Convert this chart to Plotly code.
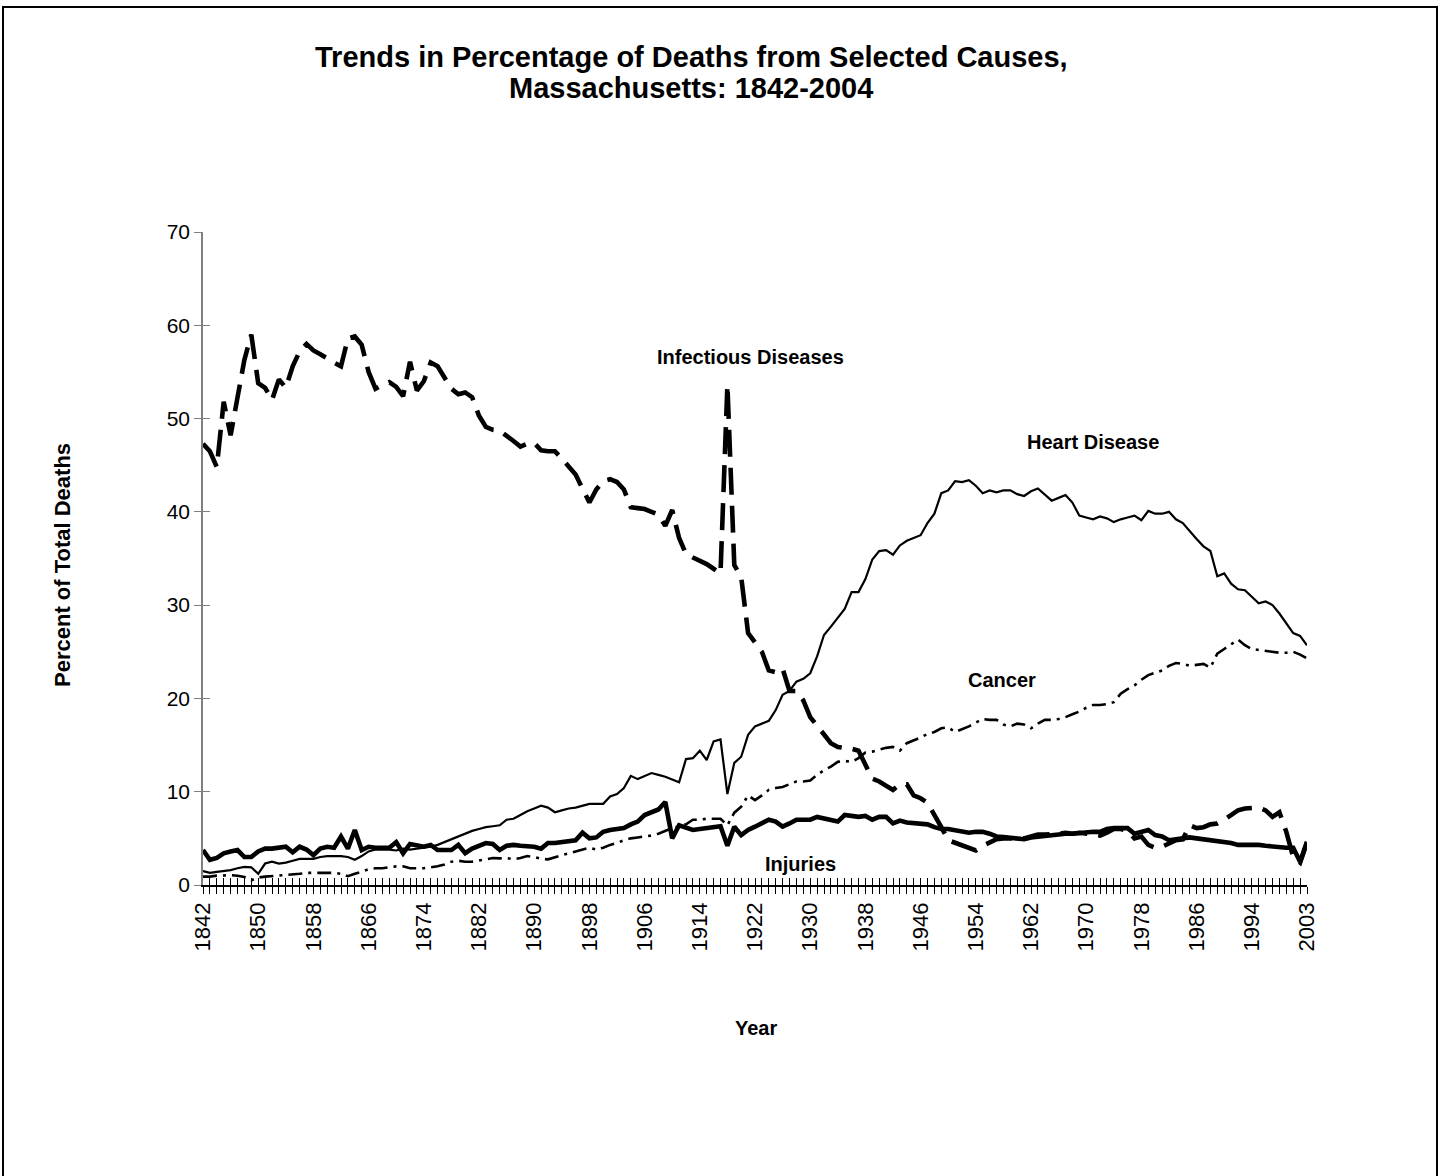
import plotly.graph_objects as go

# ---------------- data ----------------
years = list(range(1842, 1999)) + list(range(2000, 2004))

infectious = [
    47.3, 46.5, 44.8, 51.8, 48.2, 52.2, 56.3, 59.0, 53.8, 53.3,
    52.0, 54.2, 53.3, 55.6, 57.2, 58.0, 57.3, 56.9, 56.4, 56.0,
    55.6, 58.6, 58.8, 57.9, 55.0, 53.2, 53.6, 53.9, 53.4, 52.4,
    56.1, 53.0, 54.0, 56.0, 55.6, 54.5, 53.2, 52.6, 52.8, 52.3,
    50.3, 49.1, 48.8, 48.7, 48.2, 47.6, 47.0, 47.3, 47.4, 46.6,
    46.5, 46.5, 45.7, 44.8, 44.0, 42.5, 41.0, 42.4, 43.3, 43.5,
    43.2, 42.4, 40.5, 40.4, 40.3, 40.0, 39.7, 38.5, 40.2, 37.2,
    35.5, 35.1, 34.8, 34.4, 33.9, 33.4, 53.6, 34.3, 33.0, 27.0,
    26.0, 25.0, 23.0, 22.8, 23.2, 20.8, 20.8, 19.8, 18.0, 17.0,
    16.0, 15.2, 14.8, 14.75, 14.6, 14.4, 12.8, 11.4, 11.1, 10.6,
    10.2, 10.8, 10.8, 9.6, 9.3, 8.8, 7.6, 6.2, 4.8, 4.5,
    4.2, 3.9, 3.7, 4.2, 4.6, 4.9, 5.0, 5.0, 5.1, 5.0,
    5.2, 5.4, 5.4, 5.4, 5.5, 5.6, 5.5, 5.6, 5.5, 5.3,
    5.3, 5.6, 6.0, 6.0, 5.8, 5.0, 5.2, 4.3, 4.0, 4.1,
    4.4, 4.8, 4.9, 6.4, 6.1, 6.2, 6.5, 6.6, 7.0, 7.5,
    8.0, 8.2, 8.3, 8.3, 8.0, 7.3, 7.8, 5.7, 3.0, 2.4,
    4.6,
]

heart = [
    1.5, 1.3, 1.4, 1.5, 1.6, 1.8, 1.95, 1.9, 1.2, 2.3,
    2.5, 2.3, 2.4, 2.6, 2.8, 2.8, 2.8, 3.0, 3.1, 3.1,
    3.1, 3.0, 2.7, 3.1, 3.6, 3.8, 3.8, 3.8, 3.7, 3.9,
    3.8, 3.9, 4.0, 4.1, 4.3, 4.6, 4.9, 5.2, 5.5, 5.8,
    6.0, 6.2, 6.3, 6.4, 7.0, 7.1, 7.5, 7.9, 8.2, 8.5,
    8.3, 7.8, 8.0, 8.2, 8.3, 8.5, 8.7, 8.7, 8.7, 9.5,
    9.75, 10.4, 11.7, 11.35, 11.7, 12.0, 11.8, 11.6, 11.3, 11.0,
    13.5, 13.6, 14.4, 13.4, 15.4, 15.6, 9.75, 13.1, 13.75, 16.1,
    17.0, 17.3, 17.6, 18.75, 20.4, 20.8, 21.8, 22.1, 22.7, 24.5,
    26.8, 27.7, 28.6, 29.6, 31.4, 31.4, 32.8, 34.9, 35.8, 35.9,
    35.4, 36.4, 36.9, 37.2, 37.5, 38.8, 39.8, 42.0, 42.3, 43.3,
    43.2, 43.4, 42.8, 42.0, 42.3, 42.1, 42.3, 42.3, 41.9, 41.7,
    42.2, 42.5, 41.9, 41.2, 41.5, 41.8, 41.0, 39.6, 39.4, 39.2,
    39.5, 39.3, 38.9, 39.2, 39.4, 39.6, 39.1, 40.1, 39.8, 39.8,
    40.0, 39.2, 38.8, 37.9, 37.1, 36.3, 35.8, 33.1, 33.4, 32.3,
    31.7, 31.6, 30.9, 30.2, 30.4, 30.0, 29.1, 28.0, 27.0, 26.7,
    25.7,
]

cancer = [
    0.9, 0.9, 1.0, 1.05, 1.05, 1.0, 0.85, 0.5, 0.8, 0.9,
    0.95, 1.0, 1.1, 1.1, 1.2, 1.3, 1.3, 1.3, 1.3, 1.3,
    1.2, 0.95, 1.2, 1.4, 1.7, 1.8, 1.8, 1.9, 2.0, 2.0,
    1.8, 1.8, 1.8, 1.9, 2.0, 2.2, 2.5, 2.6, 2.5, 2.5,
    2.6, 2.75, 2.9, 2.85, 2.9, 2.75, 2.9, 3.1, 3.0, 2.8,
    2.75, 3.0, 3.2, 3.4, 3.6, 3.8, 4.0, 3.8, 4.0, 4.3,
    4.5, 4.8, 5.0, 5.1, 5.2, 5.3, 5.5, 5.8, 6.1, 6.3,
    6.5, 7.0, 7.0, 7.1, 7.1, 7.1, 6.4, 7.75, 8.4, 9.6,
    9.1, 9.6, 10.2, 10.4, 10.5, 10.8, 11.1, 11.1, 11.2, 11.8,
    12.3, 12.7, 13.2, 13.3, 13.2, 13.6, 14.2, 14.3, 14.5, 14.7,
    14.8, 14.4, 15.2, 15.5, 15.8, 16.2, 16.4, 16.8, 16.9, 16.4,
    16.7, 17.0, 17.4, 17.8, 17.7, 17.7, 17.2, 17.0, 17.3, 17.2,
    16.8, 17.3, 17.7, 17.7, 17.8, 18.0, 18.3, 18.6, 19.0, 19.3,
    19.3, 19.4, 19.6, 20.5, 21.0, 21.4, 22.0, 22.5, 22.75, 23.0,
    23.5, 23.8, 23.7, 23.5, 23.6, 23.7, 23.3, 24.8, 25.3, 25.8,
    26.3, 25.7, 25.3, 25.2, 25.1, 25.0, 24.9, 24.9, 25.0, 24.7,
    24.3,
]

injuries = [
    3.75, 2.7, 2.9, 3.4, 3.6, 3.75, 3.0, 3.0, 3.6, 3.9,
    3.9, 4.0, 4.1, 3.5, 4.1, 3.8, 3.2, 3.9, 4.1, 4.0,
    5.2, 3.9, 5.9, 3.75, 4.1, 4.0, 4.0, 4.0, 4.6, 3.4,
    4.4, 4.2, 4.1, 4.3, 3.75, 3.75, 3.75, 4.3, 3.4, 3.9,
    4.2, 4.5, 4.4, 3.75, 4.2, 4.3, 4.2, 4.2, 4.1, 3.9,
    4.5, 4.5, 4.6, 4.7, 4.8, 5.6, 5.0, 5.1, 5.7, 5.9,
    6.0, 6.1, 6.5, 6.8, 7.5, 7.8, 8.1, 8.9, 5.0, 6.4,
    6.1, 5.9, 6.0, 6.1, 6.1, 6.3, 4.2, 6.25, 5.35, 5.9,
    6.25, 6.6, 7.0, 6.8, 6.25, 6.6, 7.0, 7.0, 7.0, 7.3,
    7.1, 6.9, 6.8, 7.5, 7.4, 7.3, 7.4, 7.0, 7.3, 7.3,
    6.6, 6.9, 6.7, 6.6, 6.5, 6.5, 6.2, 6.0, 6.0, 5.9,
    5.8, 5.6, 5.7, 5.7, 5.5, 5.2, 5.15, 5.1, 5.0, 4.9,
    5.1, 5.2, 5.3, 5.35, 5.4, 5.5, 5.5, 5.6, 5.6, 5.7,
    5.7, 6.0, 6.1, 6.1, 6.1, 5.5, 5.7, 5.9, 5.35, 5.2,
    4.8, 4.9, 5.0, 5.1, 5.0, 4.9, 4.8, 4.7, 4.65, 4.5,
    4.3, 4.3, 4.35, 4.3, 4.2, 4.1, 4.05, 4.0, 4.0, 2.5,
    4.6,
]

series_labels = ["Infectious Diseases", "Heart Disease", "Cancer", "Injuries"]
y_ticks = [0, 10, 20, 30, 40, 50, 60, 70]
label_every = 8

# ---------------- layout helpers ----------------
W, H = 1441, 1176
L, R, T, B = 203, 134, 232, 291
PW, PH = W - L - R, H - T - B
FONT = "Liberation Sans, Arial, sans-serif"


def px(xp):
    return (xp - L) / PW


def py(yp):
    return (H - B - yp) / PH


xi = list(range(len(years)))
ticktext = [str(y) if i % label_every == 0 else "" for i, y in enumerate(years)]

fig = go.Figure()
fig.add_trace(go.Scatter(x=xi, y=infectious, mode="lines", name=series_labels[0],
                         line=dict(color="black", width=4.6, dash="27px,11px")))
fig.add_trace(go.Scatter(x=xi, y=heart, mode="lines", name=series_labels[1],
                         line=dict(color="black", width=2.2)))
fig.add_trace(go.Scatter(x=xi, y=cancer, mode="lines", name=series_labels[2],
                         line=dict(color="black", width=2.6, dash="14px,6px,3px,6px")))
fig.add_trace(go.Scatter(x=xi, y=injuries, mode="lines", name=series_labels[3],
                         line=dict(color="black", width=4.6)))
# empty helper trace so the overlay axes (inner half of the crossing ticks) are drawn
fig.add_trace(go.Scatter(x=[None], y=[None], xaxis="x2", yaxis="y2", mode="lines",
                         hoverinfo="skip", showlegend=False))

axis_col = "#808080"
fig.update_layout(
    width=W, height=H,
    margin=dict(l=L, r=R, t=T, b=B, pad=0),
    paper_bgcolor="white", plot_bgcolor="white",
    showlegend=False,
    font=dict(family=FONT, color="black"),
    xaxis=dict(
        range=[0, len(years) - 1], tickmode="array", tickvals=xi, ticktext=ticktext,
        ticks="outside", ticklen=7, tickwidth=1, tickcolor="#000000",
        tickangle=-90, tickfont=dict(size=22, family=FONT, color="black"),
        showline=True, linecolor="#000000", linewidth=1.5,
        showgrid=False, zeroline=False,
    ),
    xaxis2=dict(
        overlaying="x", anchor="y2", side="bottom",
        range=[0, len(years) - 1], tickmode="array", tickvals=xi,
        ticks="inside", ticklen=7, tickwidth=1, tickcolor="#000000",
        showticklabels=False, showline=False, showgrid=False, zeroline=False,
    ),
    yaxis=dict(
        range=[0, 70], tickmode="array", tickvals=y_ticks,
        ticks="outside", ticklen=7, tickwidth=1, tickcolor=axis_col,
        tickfont=dict(size=21, family=FONT, color="black"),
        showline=True, linecolor=axis_col, linewidth=1.5,
        showgrid=False, zeroline=False,
    ),
    yaxis2=dict(
        overlaying="y", anchor="x2", side="left",
        range=[0, 70], tickmode="array", tickvals=y_ticks,
        ticks="inside", ticklen=7, tickwidth=1, tickcolor=axis_col,
        showticklabels=False, showline=False, showgrid=False, zeroline=False,
    ),
)

annotations = [
    dict(text="<b>Trends in Percentage of Deaths from Selected Causes,</b>", x=px(691), y=py(57), size=29),
    dict(text="<b>Massachusetts: 1842-2004</b>", x=px(691), y=py(88), size=29),
    dict(text="<b>Year</b>", x=px(756), y=py(1028), size=20),
    dict(text="<b>Infectious Diseases</b>", x=px(750), y=py(357), size=20),
    dict(text="<b>Heart Disease</b>", x=px(1093), y=py(442), size=20),
    dict(text="<b>Cancer</b>", x=px(1002), y=py(680), size=20),
    dict(text="<b>Injuries</b>", x=px(800), y=py(864), size=20),
]
for a in annotations:
    fig.add_annotation(text=a["text"], x=a["x"], y=a["y"], xref="paper", yref="paper",
                       xanchor="center", yanchor="middle", showarrow=False,
                       font=dict(size=a["size"], family=FONT, color="black"))

fig.add_annotation(text="<b>Percent of Total Deaths</b>", x=px(62), y=py(565),
                   xref="paper", yref="paper", xanchor="center", yanchor="middle",
                   textangle=-90, showarrow=False,
                   font=dict(size=22, family=FONT, color="black"))

# outer chart frame
fig.add_shape(type="rect", xref="paper", yref="paper",
              x0=px(3), x1=px(1437), y0=py(1200), y1=py(7),
              line=dict(color="black", width=2), fillcolor="rgba(0,0,0,0)", layer="below")

fig.write_html("out.html", config={"displayModeBar": False},
               post_script="document.body.style.margin='0';document.body.style.overflow='hidden';")
